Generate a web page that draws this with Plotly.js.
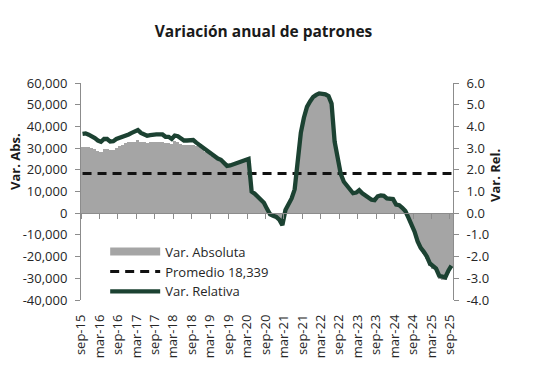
<!DOCTYPE html>
<html><head><meta charset="utf-8">
<script src="https://cdn.plot.ly/plotly-3.0.1.min.js"></script>
<style>html,body{margin:0;padding:0;background:#fff}#chart{width:546px;height:391px}</style>
</head><body><div id="chart"></div>
<script>
// Monthly data, sep-15 .. sep-25 (121 months)
const varAbsoluta = [
  30600, 30700, 30500, 30200, 29500, 28600, 28300, 29600, 29800, 29000,
  29300, 30200, 31200, 31600, 32300, 32600, 32900, 33000, 33600, 33000,
  32700, 32500, 32800, 33000, 32900, 32900, 32700, 32300, 32500, 31800,
  33200, 32600, 32000, 31600, 31600, 31500, 31400, 31000, 30400, 29400,
  28400, 27600, 26500, 25600, 25000, 24300, 23000, 21700, 22000, 22500,
  22900, 23300, 23900, 24400, 25000,
  10000, 9000, 7800, 6200, 4800, 2000, -500, -1200, -1700, -3000,
  -5500, 1500, 4500, 6800, 11000, 24000, 37000, 44000, 49000, 51500,
  53500, 54500, 55200, 55000, 54800, 54000, 50500, 33000, 25000, 18000,
  14500, 12500, 10800, 9200, 9500, 10600, 9200, 8000, 6800, 6200,
  6000, 7800, 8200, 8000, 6800, 6800, 6500, 4000, 3700, 2500,
  1000, -2000, -5000, -8700, -13500, -16700, -18600, -20900, -24200, -25600,
  -26700, -30100, -30800, -31000, -27700, -25300
];
const varRelativa = [
  3.66, 3.68, 3.62, 3.55, 3.46, 3.35, 3.29, 3.42, 3.42, 3.30,
  3.32, 3.42, 3.46, 3.52, 3.58, 3.63, 3.70, 3.76, 3.83, 3.70,
  3.62, 3.57, 3.60, 3.63, 3.63, 3.63, 3.63, 3.52, 3.52, 3.42,
  3.58, 3.55, 3.45, 3.35, 3.35, 3.37, 3.37, 3.25, 3.14, 3.02,
  2.90, 2.80, 2.68, 2.58, 2.52, 2.46, 2.32, 2.18, 2.20, 2.26,
  2.30, 2.34, 2.40, 2.45, 2.50, 1.00, 0.90, 0.78, 0.62, 0.48,
  0.20, -0.05, -0.12, -0.17, -0.30, -0.55, 0.15, 0.45, 0.68, 1.10,
  2.40, 3.70, 4.40, 4.90, 5.15, 5.35, 5.45, 5.52, 5.50, 5.48,
  5.40, 5.05, 3.30, 2.50, 1.80, 1.45, 1.25, 1.08, 0.92, 0.95,
  1.06, 0.92, 0.80, 0.68, 0.62, 0.60, 0.78, 0.82, 0.80, 0.68,
  0.68, 0.65, 0.40, 0.37, 0.25, 0.10, -0.20, -0.50, -0.85, -1.30,
  -1.60, -1.78, -2.00, -2.32, -2.45, -2.55, -2.88, -2.94, -2.96, -2.65, -2.42
];
const promedio = 18339;
const xTickLabels = ['sep-15','mar-16','sep-16','mar-17','sep-17','mar-18','sep-18','mar-19','sep-19','mar-20','sep-20','mar-21','sep-21','mar-22','sep-22','mar-23','sep-23','mar-24','sep-24','mar-25','sep-25'];
const yLeftVals = [60000, 50000, 40000, 30000, 20000, 10000, 0, -10000, -20000, -30000, -40000];
const yLeftText = ['60,000','50,000','40,000','30,000','20,000','10,000','0','-10,000','-20,000','-30,000','-40,000'];
const yRightVals = [6, 5, 4, 3, 2, 1, 0, -1, -2, -3, -4];
const yRightText = ['6.0','5.0','4.0','3.0','2.0','1.0','0.0','-1.0','-2.0','-3.0','-4.0'];

const idx = varAbsoluta.map((_, i) => i);
const tickPos = xTickLabels.map((_, k) => k * 6 - 0.5);
const promLine = idx.map(() => promedio);

const FONT = 'Open Sans, Noto Sans, sans-serif';
const GRAY = '#a5a5a5';
const AX = '#8c8c8c';
const GREEN = '#1c4232';
const TXT = '#262626';

const traces = [
  {type: 'bar', x: idx, y: varAbsoluta, marker: {color: GRAY, line: {width: 0}}, width: 1, showlegend: false, hoverinfo: 'skip'},
  {type: 'scatter', mode: 'lines', x: [0], y: [null], xaxis: 'x2', name: 'Var. Absoluta', line: {color: GRAY, width: 8}},
  {type: 'scatter', mode: 'lines', x: idx, y: promLine, name: 'Promedio 18,339', line: {color: '#111', width: 3, dash: '9px,6px'}},
  {type: 'scatter', mode: 'lines', x: idx, y: varRelativa, yaxis: 'y2', name: 'Var. Relativa', line: {color: GREEN, width: 4.3}}
];

const layout = {
  width: 546, height: 391,
  margin: {l: 81, r: 93, t: 83, b: 91},
  paper_bgcolor: '#fff', plot_bgcolor: '#fff',
  font: {family: FONT, size: 13, color: TXT},
  showlegend: true,
  bargap: 0,
  title: {text: '<b>Variación anual de patrones</b>', font: {family: FONT, size: 15.5, color: '#1a1a1a'},
          x: 0.4906, xref: 'paper', xanchor: 'center', y: 1 - 32/391, yref: 'container', yanchor: 'middle'},
  xaxis: {range: [-0.5, 120.5], anchor: 'free', position: 0.4, showline: true, linecolor: AX, linewidth: 1,
          ticks: 'outside', ticklen: 5, tickcolor: AX, tickvals: tickPos, showticklabels: false,
          showgrid: false, zeroline: false, fixedrange: true},
  xaxis2: {range: [-0.5, 120.5], overlaying: 'x', anchor: 'y', side: 'bottom', showline: false, ticks: '',
           tickvals: tickPos, ticktext: xTickLabels, tickangle: -90, tickfont: {size: 13, color: TXT},
           ticklabelstandoff: 11, showgrid: false, zeroline: false},
  yaxis: {range: [-40000, 60000], tickvals: yLeftVals, ticktext: yLeftText, showline: true, linecolor: AX,
          ticks: 'outside', ticklen: 5, tickcolor: AX, showgrid: false, zeroline: false,
          tickfont: {size: 13, color: TXT}, ticklabelstandoff: 5},
  yaxis2: {range: [-4, 6], overlaying: 'y', side: 'right', tickvals: yRightVals, ticktext: yRightText,
           showline: true, linecolor: AX, ticks: 'outside', ticklen: 5, tickcolor: AX, showgrid: false,
           zeroline: false, tickfont: {size: 13, color: TXT}, ticklabelstandoff: 5},
  legend: {x: 0.065, y: 0.292, xanchor: 'left', yanchor: 'top', bgcolor: 'rgba(0,0,0,0)',
           font: {size: 13, color: TXT}, itemwidth: 50, tracegroupgap: 0, traceorder: 'normal'},
  annotations: [
    {text: '<b>Var. Abs.</b>', xref: 'paper', yref: 'paper', x: -81/372 + 15/372, y: (300-162)/217,
     xanchor: 'center', yanchor: 'middle', textangle: -90, showarrow: false, font: {size: 13, color: '#1a1a1a'}},
    {text: '<b>Var. Rel.</b>', xref: 'paper', yref: 'paper', x: (495-81)/372, y: (300-175)/217,
     xanchor: 'center', yanchor: 'middle', textangle: -90, showarrow: false, font: {size: 13, color: '#1a1a1a'}}
  ]
};

Plotly.newPlot('chart', traces, layout, {displayModeBar: false, staticPlot: true});
</script>
</body></html>
